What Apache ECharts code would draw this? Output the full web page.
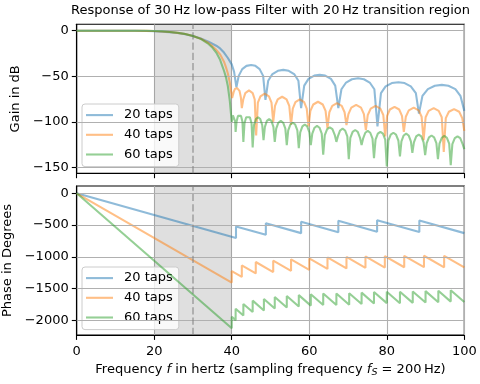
<!DOCTYPE html>
<html>
<head>
<meta charset="utf-8">
<script src="https://cdn.jsdelivr.net/npm/echarts@6/dist/echarts.min.js"></script>
<style>html,body{margin:0;padding:0;background:#fff}#c{width:480px;height:384px}</style>
</head>
<body>
<div id="c"></div>
<script>
const seriesNames = ['20 taps', '40 taps', '60 taps'];
const freqTicks = [0, 20, 40, 60, 80, 100];
const gainTicks = [0, -50, -100, -150];
const phaseTicks = [0, -500, -1000, -1500, -2000];
const transitionBand = [20, 40];
const cutoff = 30;

const gain20 = [[0,0],[5,0],[10,0],[15,-0.1],[18,-0.3],[20,-0.6],[22,-1.0],[24,-1.6],[26,-2.5],[28,-3.8],[30,-5.8],[32,-8.5],[34,-12],[36,-16.5],[37,-19.5],[38,-24],[39,-30],[40,-37],[40.6,-45],[41.2,-62],
[41.8,-49.6],[42.7,-42.2],[43.8,-38.6],[45.0,-37.6],[46.1,-38.6],[47.2,-42.2],[48.1,-49.6],[48.7,-76],
[49.4,-55],[50.5,-47.6],[51.9,-44],[53.3,-43],[54.7,-44],[56.1,-47.6],[57.2,-55],[57.9,-85],
[58.7,-60.3],[59.8,-52.9],[61.3,-49.3],[62.7,-48.3],[64.1,-49.3],[65.6,-52.9],[66.7,-60.3],[67.5,-85],
[68.3,-64.3],[69.5,-56.9],[71.0,-53.3],[72.6,-52.3],[74.1,-53.3],[75.6,-56.9],[76.8,-64.3],[77.6,-105],
[78.5,-68.5],[79.7,-61.1],[81.3,-57.5],[83.0,-56.5],[84.6,-57.5],[86.2,-61.1],[87.5,-68.5],[88.3,-91],
[89.2,-71.5],[90.6,-64.1],[92.4,-60.5],[94.2,-59.5],[95.9,-60.5],[97.7,-64.1],[99.0,-71.5],[100,-88]];

const gain40 = [[0,0],[5,0],[10,0],[15,0],[18,-0.2],[20,-0.4],[22,-0.8],[24,-1.5],[26,-2.4],[28,-3.7],[30,-5.8],[32,-8.8],[34,-13.5],[35,-17],[36,-21],[37,-26],[38,-34],[38.5,-40],[39,-47],[39.5,-57],[40.1,-74],
[40.45,-68],[40.8,-64],[41.4,-63],[42.0,-66],[42.35,-73],[42.6,-85],
[42.97,-75.5],[43.5,-68.5],[44.45,-65.5],[45.4,-68.5],[45.93,-75.5],[46.3,-115],
[46.74,-79],[47.4,-72],[48.5,-69],[49.6,-72],[50.26,-79],[50.7,-100],
[51.16,-82.5],[51.85,-75.5],[53.0,-72.5],[54.15,-75.5],[54.84,-82.5],[55.3,-103],
[55.75,-85.5],[56.43,-78.5],[57.55,-75.5],[58.68,-78.5],[59.35,-85.5],[59.8,-105],
[60.29,-88],[61.03,-81],[62.25,-78],[63.48,-81],[64.21,-88],[64.7,-107],
[65.19,-89.5],[65.93,-82.5],[67.15,-79.5],[68.38,-82.5],[69.11,-89.5],[69.6,-103.5],
[70.1,-91.5],[70.85,-84.5],[72.1,-81.5],[73.35,-84.5],[74.1,-91.5],[74.6,-109],
[75.1,-92.5],[75.85,-85.5],[77.1,-82.5],[78.35,-85.5],[79.1,-92.5],[79.6,-116],
[80.08,-93.5],[80.8,-86.5],[82.0,-83.5],[83.2,-86.5],[83.92,-93.5],[84.4,-111],
[84.91,-94.5],[85.68,-87.5],[86.95,-84.5],[88.23,-87.5],[88.99,-94.5],[89.5,-120],
[90.02,-95],[90.8,-88],[92.1,-85],[93.4,-88],[94.18,-95],[94.7,-133],
[95.23,-96],[96.03,-89],[97.35,-86],[98.68,-89],[99.47,-96],[100,-110]];

const gain60 = [[0,0],[5,0],[10,0],[15,0],[18,-0.1],[20,-0.3],[22,-0.7],[24,-1.4],[26,-2.3],[28,-3.6],[30,-5.8],[32,-9],[34,-14.5],[35,-18.5],[36,-24],[37,-32],[37.5,-38],[38,-44],[38.5,-51],[39,-61],[39.5,-77],[40,-100],
[40.12,-99.5],[40.3,-93],[40.5,-91],[40.7,-93],[40.88,-99.5],[41.0,-111],
[41.24,-100],[41.6,-93.5],[42.0,-91.5],[42.4,-93.5],[42.76,-100],[43.0,-122],
[43.29,-101.5],[43.72,-95],[44.2,-93],[44.68,-95],[45.11,-101.5],[45.4,-128],
[45.74,-103.5],[46.24,-97],[46.8,-95],[47.36,-97],[47.86,-103.5],[48.2,-120],
[48.55,-105.5],[49.07,-99],[49.65,-97],[50.23,-99],[50.75,-105.5],[51.1,-122],
[51.47,-107.5],[52.03,-101],[52.65,-99],[53.27,-101],[53.83,-107.5],[54.2,-125.5],
[54.57,-109.5],[55.13,-103],[55.75,-101],[56.37,-103],[56.93,-109.5],[57.3,-129],
[57.67,-111.5],[58.23,-105],[58.85,-103],[59.47,-105],[60.03,-111.5],[60.4,-125.5],
[60.78,-113],[61.36,-106.5],[62.0,-104.5],[62.64,-106.5],[63.22,-113],[63.6,-136],
[64.01,-114.5],[64.62,-108],[65.3,-106],[65.98,-108],[66.59,-114.5],[67.0,-122],
[67.38,-116],[67.96,-109.5],[68.6,-107.5],[69.24,-109.5],[69.82,-116],[70.2,-141],
[70.6,-117.5],[71.19,-111],[71.85,-109],[72.51,-111],[73.1,-117.5],[73.5,-125.5],
[73.88,-118.5],[74.46,-112],[75.1,-110],[75.74,-112],[76.32,-118.5],[76.7,-140],
[77.1,-119.5],[77.69,-113],[78.35,-111],[79.01,-113],[79.6,-119.5],[80.0,-149],
[80.41,-120.5],[81.02,-114],[81.7,-112],[82.38,-114],[82.99,-120.5],[83.4,-138],
[83.78,-121.5],[84.36,-115],[85.0,-113],[85.64,-115],[86.22,-121.5],[86.6,-134],
[87.0,-122.5],[87.59,-116],[88.25,-114],[88.91,-116],[89.5,-122.5],[89.9,-136.5],
[90.3,-123.5],[90.89,-117],[91.55,-115],[92.21,-117],[92.8,-123.5],[93.2,-141],
[93.6,-124],[94.19,-117.5],[94.85,-115.5],[95.51,-117.5],[96.1,-124],[96.5,-147.5],
[96.92,-124.5],[97.55,-118],[98.25,-116],[98.95,-118],[99.58,-124.5],[100,-130]];

const phase20 = [[0,0],[41.1,-702],[41.1,-522],[48.8,-652],[48.8,-472],[57.9,-627],[57.9,-447],[67.5,-612],[67.5,-432],[77.5,-604],[77.5,-424],[88.4,-609],[88.4,-429],[100,-627]];

const phase40 = [[0,0],[40.0,-1405],[40.0,-1225],[42.6,-1316],[42.6,-1136],[46.2,-1262],[46.2,-1082],[50.7,-1240],[50.7,-1060],[55.3,-1220],[55.3,-1040],[60.0,-1205],[60.0,-1025],[64.7,-1190],[64.7,-1010],[69.6,-1182],[69.6,-1002],[74.5,-1174],[74.5,-994],[79.5,-1169],[79.5,-989],[84.5,-1164],[84.5,-984],[89.6,-1163],[89.6,-983],[94.8,-1165],[94.8,-985],[100,-1167]];

const phase60 = [[0,0],[40.0,-2124],[40.0,-1944],[41.0,-1997],[41.0,-1817],[43.0,-1923],[43.0,-1743],[45.4,-1870],[45.4,-1690],[48.3,-1844],[48.3,-1664],[51.1,-1813],[51.1,-1633],[54.2,-1798],[54.2,-1618],[57.3,-1783],[57.3,-1603],[60.4,-1768],[60.4,-1588],[63.6,-1758],[63.6,-1578],[67.0,-1759],[67.0,-1579],[70.3,-1754],[70.3,-1574],[73.5,-1744],[73.5,-1564],[76.7,-1734],[76.7,-1554],[80.0,-1729],[80.0,-1549],[83.4,-1730],[83.4,-1550],[86.7,-1725],[86.7,-1545],[90.0,-1720],[90.0,-1540],[93.3,-1715],[93.3,-1535],[96.5,-1705],[96.5,-1525],[100,-1711]];

const colors = ['#1f77b4', '#ff7f0e', '#2ca02c'];
const legendColors = ['#8fbbd9', '#ffbf86', '#95cf95'];
const FONT = 'DejaVu Sans';
const FS = 13;

const chart = echarts.init(document.getElementById('c'), null, {renderer: 'canvas'});
const minusFmt = v => String(v).replace('-', '\u2212');

function yAxisCfg(gridIndex, min, max, ticks, name, gap) {
  return {
    type: 'value', gridIndex, min, max,
    name, nameLocation: 'middle', nameGap: gap,
    nameTextStyle: {fontFamily: FONT, fontSize: FS, color: '#000'},
    axisLine: {show: true, lineStyle: {color: '#000', width: 1.1}},
    axisTick: {show: true, inside: false, length: 4.9, lineStyle: {color: '#000', width: 1.1}, customValues: ticks},
    axisLabel: {show: true, margin: 8, fontFamily: FONT, fontSize: FS, color: '#000', customValues: ticks, formatter: minusFmt},
    splitLine: {show: false}
  };
}
function xAxisCfg(gridIndex, showLabel) {
  const c = {
    type: 'value', gridIndex, min: 0, max: 100, interval: 20,
    axisLine: {show: true, onZero: false, lineStyle: {color: '#000', width: 1.1}},
    axisTick: {show: true, inside: false, length: 4.9, lineStyle: {color: '#000', width: 1.1}},
    axisLabel: {show: showLabel, margin: 10, fontFamily: FONT, fontSize: FS, color: '#000'},
    splitLine: {show: true, lineStyle: {color: '#b0b0b0', width: 1.1}}
  };
  if (showLabel) {
    c.name = '{n|Frequency }{i|f}{n| in hertz (sampling frequency }{i|f}{s|S}{n| = 200\u2009Hz)}';
    c.nameLocation = 'middle';
    c.nameGap = 27;
    c.nameTextStyle = {
      fontFamily: FONT, fontSize: FS, color: '#000',
      rich: {
        n: {fontFamily: FONT, fontSize: FS, color: '#000', lineHeight: 16},
        i: {fontFamily: FONT, fontSize: FS, fontStyle: 'italic', color: '#000', lineHeight: 16},
        s: {fontFamily: FONT, fontSize: 9.5, fontStyle: 'italic', color: '#000', lineHeight: 16, verticalAlign: 'bottom', padding: [5, 0, 0, 0]}
      }
    };
  }
  return c;
}

function decoSeries(xi, yi, ticks) {
  return {
    type: 'line', xAxisIndex: xi, yAxisIndex: yi, data: [[0, 0]], symbol: 'none', silent: true,
    lineStyle: {width: 0, opacity: 0}, z: 1,
    markArea: {silent: true, itemStyle: {color: 'rgba(128,128,128,0.25)'}, data: [[{xAxis: transitionBand[0]}, {xAxis: transitionBand[1]}]]},
    markLine: {silent: true, symbol: ['none', 'none'], label: {show: false}, animation: false,
      lineStyle: {color: '#b0b0b0', width: 1.1, type: 'solid'},
      data: ticks.map(t => ({yAxis: t})).concat([{xAxis: cutoff, lineStyle: {color: 'rgba(128,128,128,0.5)', width: 2, type: [7.2, 3.1]}}])}
  };
}
function lineSeries(name, data, ci, xi, yi) {
  return {name, type: 'line', xAxisIndex: xi, yAxisIndex: yi, data, showSymbol: false, symbol: 'none',
    lineStyle: {color: colors[ci], width: 2.08, opacity: 0.5}, itemStyle: {color: colors[ci]}, z: 3 + ci};
}
function legendCfg(top) {
  return {
    left: 82, top, orient: 'vertical', padding: [4, 6, 5, 4], itemGap: 5.5,
    itemWidth: 27, itemHeight: 2.1, symbolKeepAspect: false,
    backgroundColor: 'rgba(255,255,255,0.8)', borderColor: '#cccccc', borderWidth: 1, borderRadius: 3,
    textStyle: {fontFamily: FONT, fontSize: FS, color: '#000', lineHeight: 14.2, padding: [0, 0, 0, 6]},
    data: seriesNames.map((n, i) => ({name: n, icon: 'rect', itemStyle: {color: legendColors[i]}}))
  };
}

const gridBase = {left: 76.7, right: 15.7, height: 149, show: true, borderColor: '#000', borderWidth: 1.1,
  backgroundColor: 'transparent', containLabel: false, outerBoundsMode: 'none'};

const option = {
  animation: false,
  backgroundColor: '#fff',
  title: {
    text: 'Response of 30\u2009Hz low-pass Filter with 20\u2009Hz transition region',
    left: 270.5, top: 4, padding: 0, textAlign: 'center',
    textStyle: {fontFamily: FONT, fontSize: FS, fontWeight: 'normal', color: '#000'}
  },
  grid: [
    Object.assign({}, gridBase, {top: 24.3}),
    Object.assign({}, gridBase, {top: 186})
  ],
  legend: [legendCfg(104), legendCfg(267)],
  xAxis: [xAxisCfg(0, false), xAxisCfg(1, true)],
  yAxis: [
    yAxisCfg(0, -156.5, 7, gainTicks, 'Gain in dB', 53),
    yAxisCfg(1, -2231, 115, phaseTicks, 'Phase in Degrees', 61)
  ],
  series: [
    decoSeries(0, 0, gainTicks),
    decoSeries(1, 1, phaseTicks),
    lineSeries(seriesNames[0], gain20, 0, 0, 0),
    lineSeries(seriesNames[1], gain40, 1, 0, 0),
    lineSeries(seriesNames[2], gain60, 2, 0, 0),
    lineSeries(seriesNames[0], phase20, 0, 1, 1),
    lineSeries(seriesNames[1], phase40, 1, 1, 1),
    lineSeries(seriesNames[2], phase60, 2, 1, 1)
  ]
};
chart.setOption(option);
</script>
</body>
</html>
